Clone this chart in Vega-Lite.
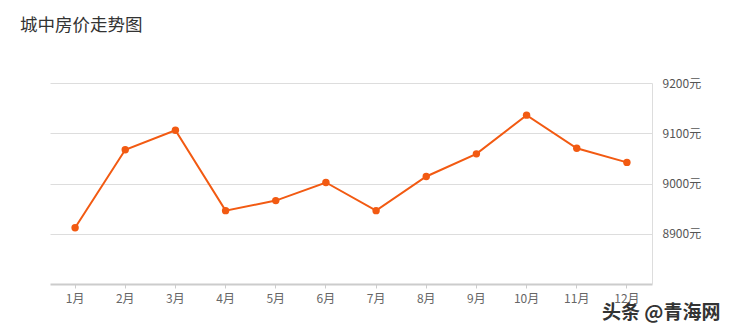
{
  "$schema": "https://vega.github.io/schema/vega-lite/v6.json",
  "autosize": {"type": "none"},
  "width": 602,
  "height": 201,
  "padding": {"left": 50, "top": 83, "right": 80, "bottom": 48},
  "background": "#ffffff",
  "title": {
    "text": "城中房价走势图",
    "anchor": "start",
    "frame": "group",
    "dx": -30,
    "offset": 43,
    "font": "Noto Sans CJK SC",
    "fontSize": 17.5,
    "fontWeight": "normal",
    "color": "#333333"
  },
  "config": {
    "view": {"stroke": null},
    "font": "Noto Sans CJK SC"
  },
  "data": {
    "values": [
      {"month": "1月", "price": 8912},
      {"month": "2月", "price": 9067},
      {"month": "3月", "price": 9106},
      {"month": "4月", "price": 8946},
      {"month": "5月", "price": 8966},
      {"month": "6月", "price": 9002},
      {"month": "7月", "price": 8946},
      {"month": "8月", "price": 9014},
      {"month": "9月", "price": 9059},
      {"month": "10月", "price": 9136},
      {"month": "11月", "price": 9070},
      {"month": "12月", "price": 9042}
    ]
  },
  "encoding": {
    "x": {
      "field": "month",
      "type": "ordinal",
      "sort": null,
      "scale": {"type": "band", "paddingInner": 0, "paddingOuter": 0},
      "axis": {
        "title": "头条 @青海网",
        "titleX": 670,
        "titleY": 28,
        "titleAlign": "right",
        "titleBaseline": "middle",
        "titleFont": "Noto Sans CJK SC",
        "titleFontSize": 19,
        "titleFontWeight": "bold",
        "titleColor": "#333333",
        "labelAngle": 0,
        "labelFont": "Noto Sans CJK SC",
        "labelFontSize": 12,
        "labelColor": "#666666",
        "labelPadding": 5,
        "domainColor": "#cccccc",
        "domainWidth": 2,
        "tickColor": "#cccccc",
        "tickSize": 4,
        "grid": false
      }
    },
    "y": {
      "field": "price",
      "type": "quantitative",
      "scale": {"domain": [8800, 9200], "nice": false, "zero": false},
      "axis": {
        "orient": "right",
        "title": null,
        "values": [8900, 9000, 9100, 9200],
        "format": "d",
        "labelExpr": "datum.label + '元'",
        "labelFont": "Noto Sans CJK SC",
        "labelFontSize": 12,
        "labelColor": "#555555",
        "labelPadding": 10,
        "ticks": false,
        "domainColor": "#dddddd",
        "domainWidth": 1,
        "gridColor": "#dddddd",
        "gridWidth": 1
      }
    }
  },
  "layer": [
    {
      "mark": {"type": "line", "color": "#f25a12", "strokeWidth": 2}
    },
    {
      "mark": {"type": "point", "filled": true, "color": "#f25a12", "size": 55, "opacity": 1}
    }
  ]
}
